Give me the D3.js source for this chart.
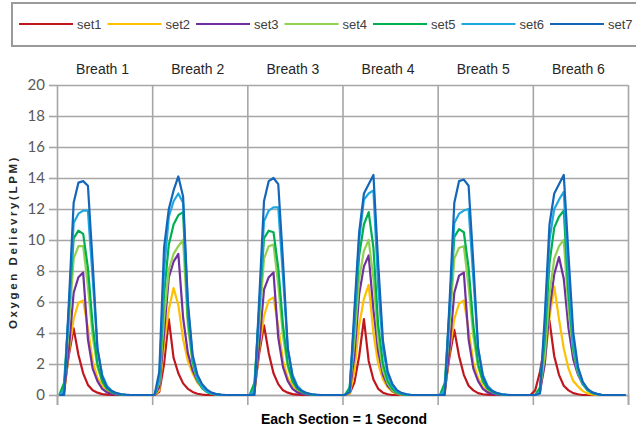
<!DOCTYPE html>
<html><head><meta charset="utf-8">
<script src="https://cdn.jsdelivr.net/npm/d3@7"></script>
<style>body{margin:0;background:#fff}svg{display:block}</style>
</head><body>
<svg id="c" width="636" height="432"></svg>
<script>
// ---- data (20 samples per breath, 6 breaths) ----
const seriesNames = ["set1","set2","set3","set4","set5","set6","set7"];
const breathLabels = ["Breath 1","Breath 2","Breath 3","Breath 4","Breath 5","Breath 6"];
const yTicks = [0,2,4,6,8,10,12,14,16,18,20];
const sectionBounds = [0,20,40,60,80,100,120];

const set1 = [
 0,0.3,2.6,4.3,2.6,1.4,0.65,0.3,0.15,0.06,0.02,0,0,0,0,0,0,0,0,0,
 0,0.2,2.0,4.9,2.4,1.4,0.75,0.4,0.2,0.08,0.03,0,0,0,0,0,0,0,0,0,
 0,0.3,2.7,4.5,2.7,1.4,0.7,0.3,0.15,0.06,0.02,0,0,0,0,0,0,0,0,0,
 0,0.1,0.8,2.5,4.9,2.2,1.0,0.4,0.15,0.05,0,0,0,0,0,0,0,0,0,0,
 0,0.3,2.5,4.2,2.5,1.3,0.6,0.3,0.12,0.05,0.02,0,0,0,0,0,0,0,0,0,
 0.3,1.5,3.2,4.8,2.5,1.3,0.6,0.3,0.12,0.05,0,0,0,0,0,0,0,0,0,0];
const set2 = [
 0,0.1,2.8,4.9,5.95,6.1,4.3,2.2,1.1,0.6,0.25,0.1,0.04,0,0,0,0,0,0,0,
 0,0.3,3.3,5.5,6.9,5.8,3.6,2.2,1.4,0.8,0.45,0.2,0.08,0.03,0,0,0,0,0,0,
 0,0.1,3.0,5.1,6.1,6.3,4.4,2.2,1.1,0.6,0.25,0.1,0.04,0,0,0,0,0,0,0,
 0,0.1,1.5,4.5,6.2,7.1,4.0,2.0,1.0,0.5,0.2,0.08,0,0,0,0,0,0,0,0,
 0,0.1,2.8,4.9,5.9,6.1,4.2,2.1,1.1,0.55,0.25,0.1,0.04,0,0,0,0,0,0,0,
 0,0.3,2.0,5.0,7.0,4.9,3.0,1.7,0.9,0.55,0.25,0.1,0.04,0,0,0,0,0,0,0];
const set3 = [
 0,0.2,3.0,6.6,7.6,7.9,3.6,1.7,0.9,0.4,0.17,0.07,0.02,0,0,0,0,0,0,0,
 0,0.5,4.0,7.6,8.6,9.1,5.0,2.7,1.6,0.9,0.5,0.25,0.1,0.04,0,0,0,0,0,0,
 0,0.2,3.2,6.8,7.6,7.9,3.7,1.8,0.9,0.4,0.17,0.07,0.02,0,0,0,0,0,0,0,
 0,0.2,2.5,6.5,8.3,9.0,5.5,2.8,1.3,0.6,0.25,0.1,0.03,0,0,0,0,0,0,0,
 0,0.2,3.0,6.6,7.7,7.9,3.6,1.7,0.9,0.4,0.17,0.07,0.02,0,0,0,0,0,0,0,
 0,0.2,2.0,5.5,7.8,8.9,7.5,4.3,2.3,1.3,0.7,0.35,0.15,0.05,0,0,0,0,0,0];
const set4 = [
 0,0.6,4.5,8.8,9.6,9.6,7.0,3.8,1.8,0.85,0.4,0.18,0.08,0.03,0,0,0,0,0,0,
 0,0.8,5.0,8.1,9.1,9.6,10.0,4.5,2.0,0.95,0.45,0.2,0.08,0.03,0,0,0,0,0,0,
 0,0.6,4.6,8.8,9.6,9.7,7.1,3.8,1.8,0.85,0.4,0.18,0.08,0.03,0,0,0,0,0,0,
 0,0.4,3.5,7.5,9.3,10.0,7.5,3.5,1.6,0.75,0.3,0.12,0.05,0,0,0,0,0,0,0,
 0,0.6,4.5,8.8,9.5,9.6,7.0,3.8,1.8,0.85,0.4,0.18,0.08,0.03,0,0,0,0,0,0,
 0,0.4,2.5,6.5,8.8,9.6,10.0,5.5,2.8,1.4,0.7,0.3,0.12,0.05,0,0,0,0,0,0];
const set5 = [
 0,0.8,5.5,10.1,10.6,10.4,8.2,4.5,2.0,0.9,0.4,0.2,0.08,0.03,0,0,0,0,0,0,
 0,1.0,6.5,9.7,11.0,11.6,11.8,5.0,2.2,1.0,0.45,0.2,0.08,0.03,0,0,0,0,0,0,
 0,0.8,5.6,10.1,10.6,10.5,8.2,4.5,2.0,0.9,0.4,0.2,0.08,0.03,0,0,0,0,0,0,
 0,0.5,4.5,9.0,11.0,11.8,9.5,4.5,2.0,0.9,0.4,0.15,0.06,0,0,0,0,0,0,0,
 0,0.8,5.5,10.2,10.7,10.5,8.2,4.5,2.0,0.9,0.4,0.2,0.08,0.03,0,0,0,0,0,0,
 0,0.5,3.5,8.5,10.8,11.5,11.9,6.5,3.0,1.5,0.7,0.3,0.12,0.05,0,0,0,0,0,0];
const set6 = [
 0,0.3,5.5,11.1,11.7,11.9,11.9,7.5,3.0,1.3,0.6,0.28,0.12,0.05,0,0,0,0,0,0,
 0,1.0,8.0,11.5,12.5,13.0,12.4,5.8,2.4,1.1,0.5,0.22,0.1,0.04,0,0,0,0,0,0,
 0,0.3,5.6,11.2,11.9,12.1,12.1,7.6,3.0,1.3,0.6,0.28,0.12,0.05,0,0,0,0,0,0,
 0,0.2,5.0,10.0,12.6,13.0,13.2,7.0,3.0,1.3,0.55,0.22,0.1,0.04,0,0,0,0,0,0,
 0,0.3,5.5,11.1,11.7,11.9,12.0,7.5,3.0,1.3,0.6,0.28,0.12,0.05,0,0,0,0,0,0,
 0,0.2,4.5,10.0,12.0,12.6,13.1,7.5,3.3,1.6,0.75,0.35,0.15,0.06,0,0,0,0,0,0];
const set7 = [
 0,0,6.0,12.4,13.7,13.8,13.5,8.5,3.0,1.2,0.5,0.25,0.12,0.05,0.02,0,0,0,0,0,
 0,1.5,9.5,12.0,13.2,14.1,12.8,6.0,2.6,1.3,0.7,0.35,0.15,0.06,0.02,0,0,0,0,0,
 0,0,6.2,12.5,13.8,14.0,13.6,8.6,3.0,1.2,0.5,0.25,0.12,0.05,0.02,0,0,0,0,0,
 0,0.2,5.5,10.5,13.0,13.6,14.2,8.5,3.5,1.5,0.7,0.3,0.12,0.05,0,0,0,0,0,0,
 0,0,6.0,12.4,13.8,13.9,13.5,8.5,3.0,1.2,0.5,0.25,0.12,0.05,0.02,0,0,0,0,0,
 0,0.1,5.0,11.0,13.0,13.6,14.2,9.0,4.0,1.8,0.85,0.4,0.17,0.07,0,0,0,0,0,0];

const seriesValues = [set1,set2,set3,set4,set5,set6,set7];
const colors = ["#C0171F","#FFC000","#7030A0","#92D050","#00B050","#1FA8E0","#1467B8"];

// ---- chart ----
const svg = d3.select("#c");
const pL = 57, pR = 628, pT = 85, pB = 395;
const x = d3.scaleLinear().domain([0,120]).range([pL,pR]);
const y = d3.scaleLinear().domain([0,20]).range([pB,pT]);
const gridColor = "#A6A6A6";

// horizontal grid
svg.append("g").attr("transform",`translate(${pL},0)`)
  .call(d3.axisLeft(y).tickValues(yTicks).tickSize(-(pR-pL)).tickFormat(""))
  .call(g=>g.select(".domain").remove())
  .call(g=>g.selectAll("line").attr("stroke",gridColor).attr("stroke-width",1.6));
// y tick marks + labels
svg.append("g").attr("transform",`translate(${pL},0)`)
  .call(d3.axisLeft(y).tickValues(yTicks).tickSize(8).tickPadding(4))
  .call(g=>g.select(".domain").remove())
  .call(g=>g.selectAll("line").attr("stroke",gridColor).attr("stroke-width",1.6))
  .call(g=>g.selectAll("text").attr("fill","#595959").style("font-family","Lato, 'Liberation Sans', sans-serif").style("font-size","15px"));

// vertical section lines
svg.append("g").attr("transform",`translate(0,${pB})`)
  .call(d3.axisBottom(x).tickValues(sectionBounds).tickSize(-(pB-pT)).tickFormat(""))
  .call(g=>g.select(".domain").remove())
  .call(g=>g.selectAll("line").attr("stroke",gridColor).attr("stroke-width",1.6));
svg.append("g").attr("transform",`translate(0,${pB})`)
  .call(d3.axisBottom(x).tickValues(sectionBounds).tickSize(10).tickFormat(""))
  .call(g=>g.select(".domain").attr("stroke",gridColor).attr("stroke-width",1.6))
  .call(g=>g.selectAll("line").attr("stroke",gridColor).attr("stroke-width",1.6));

// breath labels
svg.append("g").selectAll("text").data(breathLabels).join("text")
  .attr("x",(d,i)=>x(i*20+10)-2).attr("y",74)
  .attr("text-anchor","middle")
  .style("font-family","'Liberation Sans', Arial, sans-serif").style("font-size","14px")
  .attr("fill","#262626").text(d=>d);

// lines
const line = d3.line().x((d,i)=>x(i+0.5)).y(d=>y(d));
svg.append("g").selectAll("path").data(seriesValues).join("path")
  .attr("d",line).attr("fill","none")
  .attr("stroke",(d,i)=>colors[i]).attr("stroke-width",2.2)
  .attr("stroke-linejoin","round");

// axis titles
svg.append("text").attr("transform","translate(17,242) rotate(-90)")
  .attr("text-anchor","middle")
  .style("font-family","'Liberation Sans', Arial, sans-serif").style("font-size","11.5px")
  .style("font-weight","bold").style("letter-spacing","2.6px")
  .attr("fill","#262626").text("Oxygen Delievry(LPM)");
svg.append("text").attr("x",344).attr("y",424).attr("text-anchor","middle")
  .style("font-family","'Liberation Sans', Arial, sans-serif").style("font-size","14px")
  .style("font-weight","bold").attr("fill","#000").text("Each Section = 1 Second");

// legend
const lg = svg.append("g");
lg.append("rect").attr("x",12).attr("y",3).attr("width",640).attr("height",43)
  .attr("fill","#fff").attr("stroke","#9a9a9a").attr("stroke-width",2);
const items = lg.selectAll("g.item").data(seriesNames).join("g").attr("class","item")
  .attr("transform",(d,i)=>`translate(${19 + i*88.5},24)`);
items.append("line").attr("x1",0).attr("x2",54).attr("y1",0).attr("y2",0)
  .attr("stroke",(d,i)=>colors[i]).attr("stroke-width",2.2);
items.append("text").attr("x",58).attr("y",4.5)
  .style("font-family","'Liberation Sans Narrow', 'Liberation Sans', sans-serif").style("font-size","13px")
  .attr("fill","#404040").text(d=>d);
</script>
</body></html>
